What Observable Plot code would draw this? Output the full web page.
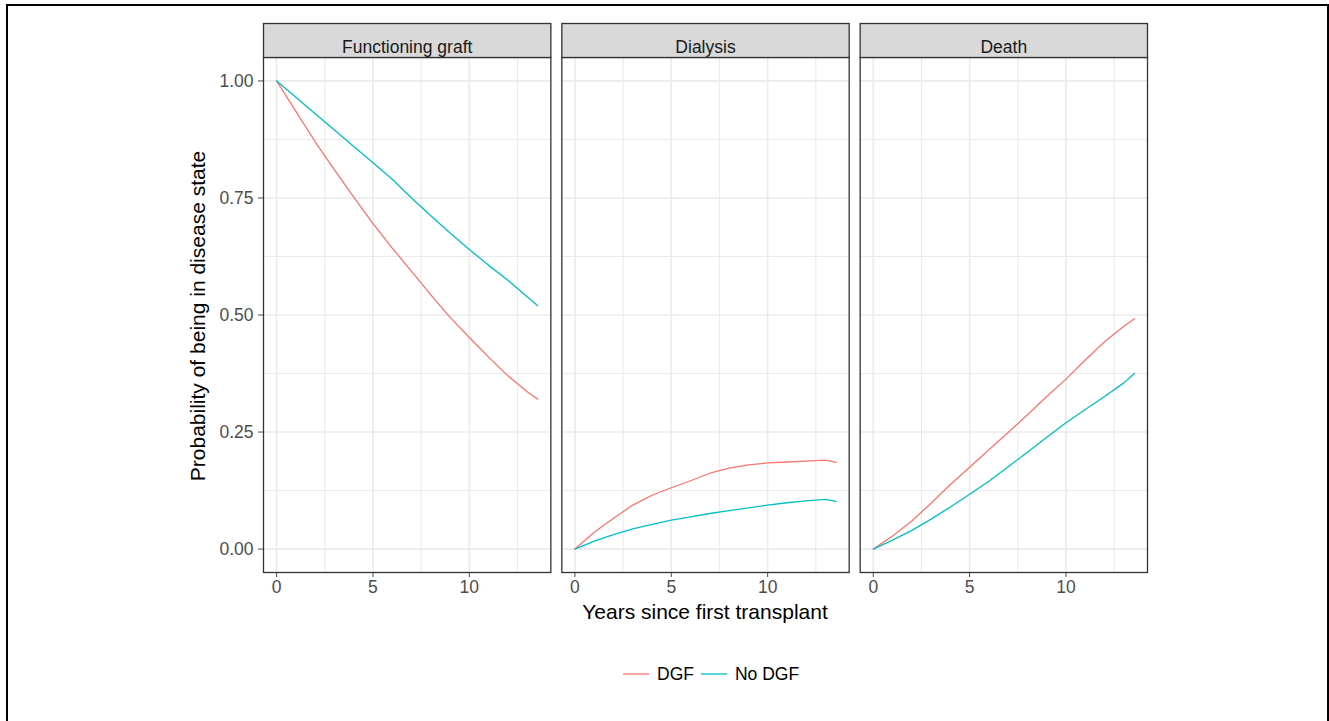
<!DOCTYPE html>
<html>
<head>
<meta charset="utf-8">
<script src="https://cdn.jsdelivr.net/npm/d3@7"></script>
<script src="https://cdn.jsdelivr.net/npm/@observablehq/plot@0.6"></script>
<style>
  html, body { margin: 0; padding: 0; background: #fff; overflow: hidden; }
  #page { position: relative; width: 1329px; height: 721px; }
  #outer { position: absolute; left: 6px; top: 4px; width: 1323px; height: 800px; box-sizing: border-box; border: 2px solid #000; pointer-events: none; }
  #chart { position: absolute; left: 0; top: 0; }
  #legend { position: absolute; left: 623px; top: 662px; height: 24px; display: flex; align-items: center;
            font-family: "Liberation Sans", Arial, sans-serif; font-size: 17.5px; color: #000; }
  #legend svg { display: block; margin-right: 8px; }
  #legend span { margin-right: 7px; }
</style>
</head>
<body>
<div id="page">
  <div id="outer"></div>
  <div id="chart"></div>
  <div id="legend"></div>
</div>
<script>
// ---- data ----
const states = ["Functioning graft", "Dialysis", "Death"];
const groups = ["DGF", "No DGF"];
const groupColors = ["#F8766D", "#00BFC4"];
const years = [0, 1, 2, 3, 4, 5, 6, 7, 8, 9, 10, 11, 12, 13, 13.55];

const graftDGF      = [1.000, 0.935, 0.870, 0.810, 0.752, 0.695, 0.643, 0.593, 0.543, 0.495, 0.452, 0.410, 0.370, 0.336, 0.320];
const graftNoDGF    = [1.000, 0.965, 0.930, 0.895, 0.860, 0.825, 0.790, 0.750, 0.712, 0.675, 0.640, 0.606, 0.574, 0.539, 0.520];
const dialysisDGF   = [0.000, 0.036, 0.066, 0.094, 0.115, 0.131, 0.146, 0.162, 0.173, 0.180, 0.184, 0.186, 0.188, 0.190, 0.185];
const dialysisNoDGF = [0.000, 0.017, 0.031, 0.043, 0.053, 0.062, 0.069, 0.076, 0.082, 0.088, 0.094, 0.099, 0.103, 0.106, 0.102];
const deathDGF      = [0.000, 0.028, 0.060, 0.098, 0.138, 0.175, 0.212, 0.249, 0.287, 0.326, 0.363, 0.404, 0.443, 0.476, 0.492];
const deathNoDGF    = [0.000, 0.019, 0.040, 0.064, 0.090, 0.117, 0.145, 0.176, 0.207, 0.239, 0.270, 0.298, 0.326, 0.355, 0.375];

const xTicks = [0, 5, 10];
const xMinor = [2.5, 7.5, 12.5];
const yTicks = [0, 0.25, 0.5, 0.75, 1];
const yMinor = [0.125, 0.375, 0.625, 0.875];

const xTitle = "Years since first transplant";
const yTitle = "Probability of being in disease state";

// ---- build table ----
const series = [
  [states[0], groups[0], graftDGF], [states[0], groups[1], graftNoDGF],
  [states[1], groups[0], dialysisDGF], [states[1], groups[1], dialysisNoDGF],
  [states[2], groups[0], deathDGF], [states[2], groups[1], deathNoDGF]
];
const rows = [];
for (const [state, group, vals] of series) {
  vals.forEach((v, i) => rows.push({state, group, year: years[i], value: v}));
}

const W = 1329, H = 640, mT = 57, mB = 68, mL = 263, mR = 182;
const innerH = H - mT - mB;
const font = "'Liberation Sans', Arial, sans-serif";

const plot = Plot.plot({
  width: W, height: H,
  marginTop: mT, marginBottom: mB, marginLeft: mL, marginRight: mR,
  style: {fontFamily: font, fontSize: "17.5px", color: "#4d4d4d", background: "transparent", overflow: "visible"},
  fx: {domain: states, paddingInner: 11 / 299, paddingOuter: 0, round: false, axis: null, label: null},
  x: {domain: [-0.68, 14.23], ticks: xTicks, tickSize: 5, tickPadding: 3.5, label: null, tickFormat: d => String(d)},
  y: {domain: [-0.05, 1.05], ticks: yTicks, tickSize: 5, tickPadding: 5, label: null, tickFormat: d => d.toFixed(2)},
  color: {domain: groups, range: groupColors},
  marks: [
    Plot.ruleX(xMinor, {stroke: "#ebebeb", strokeWidth: 1.1}),
    Plot.ruleY(yMinor, {stroke: "#ebebeb", strokeWidth: 1.1}),
    Plot.ruleX(xTicks, {stroke: "#ebebeb", strokeWidth: 1.6}),
    Plot.ruleY(yTicks, {stroke: "#ebebeb", strokeWidth: 1.6}),
    Plot.line(rows, {fx: "state", x: "year", y: "value", z: "group", stroke: "group", strokeWidth: 1.3}),
    Plot.frame({stroke: "#333333", strokeWidth: 1.3}),
    Plot.frame({fill: "#d9d9d9", stroke: "#333333", strokeWidth: 1.3, insetTop: -34, insetBottom: innerH}),
    Plot.text(states, {fx: d => d, text: d => d, frameAnchor: "top", dy: -17, fontSize: 17.5, fill: "#1a1a1a"})
  ]
});
document.getElementById("chart").appendChild(plot);

const svg = d3.select(plot);
svg.append("text")
  .attr("x", (mL + (W - mR)) / 2).attr("y", 619)
  .attr("text-anchor", "middle").attr("fill", "#000")
  .style("font-family", font).style("font-size", "21px")
  .text(xTitle);
svg.append("text")
  .attr("transform", `translate(205,316) rotate(-90)`)
  .attr("text-anchor", "middle").attr("fill", "#000")
  .style("font-family", font).style("font-size", "21px")
  .text(yTitle);

// ---- legend ----
const legend = d3.select("#legend");
groups.forEach((g, i) => {
  const s = legend.append("svg").attr("width", 26).attr("height", 4);
  s.append("line").attr("x1", 0).attr("x2", 26).attr("y1", 2).attr("y2", 2)
    .attr("stroke", groupColors[i]).attr("stroke-width", 1.3);
  legend.append("span").text(g);
});
</script>
</body>
</html>
